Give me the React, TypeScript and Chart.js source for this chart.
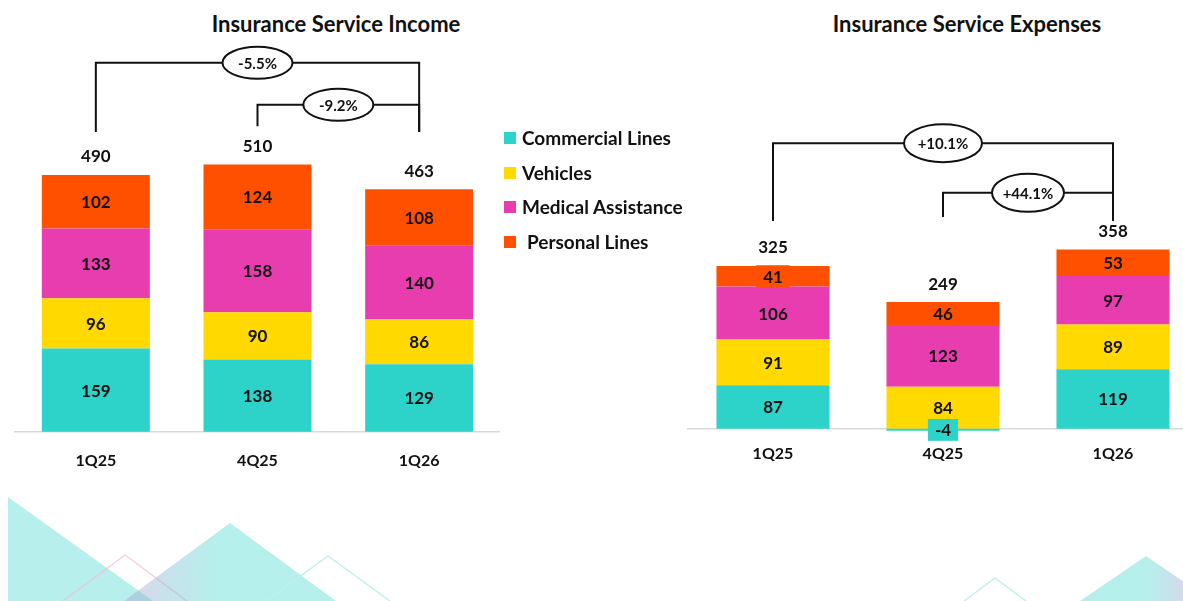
import React, { useEffect, useRef } from 'react';
import { Chart, registerables } from 'chart.js';

Chart.register(...registerables);

// ---------- data ----------
const CATEGORIES = ['1Q25', '4Q25', '1Q26'];
const SERIES_NAMES = ['Commercial Lines', 'Vehicles', 'Medical Assistance', 'Personal Lines'];
const SERIES_COLORS = ['#2DD2C9', '#FFD900', '#E73DAE', '#FF5000'];

const INCOME_COMMERCIAL = [159, 138, 129];
const INCOME_VEHICLES = [96, 90, 86];
const INCOME_MEDICAL = [133, 158, 140];
const INCOME_PERSONAL = [102, 124, 108];

const EXPENSE_COMMERCIAL = [87, -4, 119];
const EXPENSE_VEHICLES = [91, 84, 89];
const EXPENSE_MEDICAL = [106, 123, 97];
const EXPENSE_PERSONAL = [41, 46, 53];

const INCOME_CHANGES = [
  { from: 0, to: 2, label: '-5.5%' },
  { from: 1, to: 2, label: '-9.2%' },
];
const EXPENSE_CHANGES = [
  { from: 0, to: 2, label: '+10.1%' },
  { from: 1, to: 2, label: '+44.1%' },
];

const TITLE_INCOME = 'Insurance Service Income';
const TITLE_EXPENSE = 'Insurance Service Expenses';

// ---------- layout (kept apart from data) ----------
const INCOME_BRACKET_LAYOUT = [
  { level: 704, fromEnd: 572, toEnd: 572, rx: 35, ry: 16 },
  { level: 624, fromEnd: 583, toEnd: 572, rx: 35, ry: 16 },
];
const EXPENSE_BRACKET_LAYOUT = [
  { level: 570, fromEnd: 415, toEnd: 415, rx: 39, ry: 19 },
  { level: 471, fromEnd: 423, toEnd: 415, rx: 36, ry: 19 },
];

const FONT = 'Lato, "Open Sans", sans-serif';

const stackLabelPlugin = {
  id: 'stackLabels',
  afterDatasetsDraw(chart: any) {
    const ctx = chart.ctx;
    ctx.save();
    ctx.font = `bold 17px ${FONT}`;
    ctx.textAlign = 'center';
    ctx.textBaseline = 'middle';
    chart.data.datasets.forEach((ds: any, di: number) => {
      const meta = chart.getDatasetMeta(di);
      meta.data.forEach((el: any, i: number) => {
        const v = ds.data[i];
        const { x, y, base } = el.getProps(['x', 'y', 'base'], true);
        const cy = (y + base) / 2;
        const txt = String(v);
        const w = ctx.measureText(txt).width + 14;
        ctx.fillStyle = ds.backgroundColor;
        ctx.fillRect(x - w / 2, cy - 11, w, 22);
        ctx.fillStyle = '#111';
        ctx.fillText(txt, x, cy + 1);
      });
    });
    const n = chart.data.labels.length;
    for (let i = 0; i < n; i++) {
      let total = 0;
      let top = Infinity;
      let x = 0;
      chart.data.datasets.forEach((ds: any, di: number) => {
        const el = chart.getDatasetMeta(di).data[i];
        const p = el.getProps(['x', 'y', 'base'], true);
        total += ds.data[i];
        top = Math.min(top, p.y, p.base);
        x = p.x;
      });
      ctx.fillStyle = '#111';
      ctx.fillText(String(total), x, top - 18);
    }
    ctx.restore();
  },
};

const bracketPlugin = {
  id: 'brackets',
  afterDraw(chart: any, _args: any, opts: any) {
    const items = opts.items || [];
    const layout = opts.layout || [];
    const ctx = chart.ctx;
    const xs = chart.scales.x;
    const ys = chart.scales.y;
    ctx.save();
    items.forEach((it: any, k: number) => {
      const L = layout[k];
      const x1 = xs.getPixelForValue(it.from);
      const x2 = xs.getPixelForValue(it.to);
      const yl = ys.getPixelForValue(L.level);
      const y1 = ys.getPixelForValue(L.fromEnd);
      const y2 = ys.getPixelForValue(L.toEnd);
      ctx.strokeStyle = '#111';
      ctx.lineWidth = 2;
      ctx.beginPath();
      ctx.moveTo(x1, y1);
      ctx.lineTo(x1, yl);
      ctx.lineTo(x2, yl);
      ctx.lineTo(x2, y2);
      ctx.stroke();
      const cx = (x1 + x2) / 2;
      ctx.beginPath();
      ctx.ellipse(cx, yl, L.rx, L.ry, 0, 0, Math.PI * 2);
      ctx.fillStyle = '#fff';
      ctx.fill();
      ctx.stroke();
      ctx.fillStyle = '#111';
      ctx.font = `bold 15px ${FONT}`;
      ctx.textAlign = 'center';
      ctx.textBaseline = 'middle';
      ctx.fillText(it.label, cx, yl + 1);
    });
    ctx.restore();
  },
};

function makeConfig(series: number[][], changes: any[], bracketLayout: any[], yMax: number, padLeft: number, padTop: number, tickPad: number, barPct: number): any {
  return {
    type: 'bar',
    data: {
      labels: CATEGORIES,
      datasets: series.map((d, i) => ({
        label: SERIES_NAMES[i],
        data: d,
        backgroundColor: SERIES_COLORS[i],
        borderWidth: 0,
        categoryPercentage: 1,
        barPercentage: barPct,
        clip: false,
      })),
    },
    options: {
      animation: false,
      responsive: false,
      maintainAspectRatio: false,
      layout: { padding: { left: padLeft, top: padTop, right: 0, bottom: 0 } },
      plugins: {
        legend: { display: false },
        tooltip: { enabled: false },
        title: { display: false },
        brackets: { items: changes, layout: bracketLayout },
      },
      scales: {
        x: {
          stacked: true,
          grid: { display: false, drawTicks: false },
          border: { display: true, color: '#d9d9d9', width: 1.5 },
          ticks: { color: '#111', font: { family: FONT, size: 16, weight: 'bold' }, padding: tickPad },
        },
        y: { stacked: true, display: false, min: 0, max: yMax },
      },
    },
    plugins: [stackLabelPlugin, bracketPlugin],
  };
}

export default function App() {
  const leftRef = useRef<HTMLCanvasElement>(null);
  const rightRef = useRef<HTMLCanvasElement>(null);

  useEffect(() => {
    const c1 = new Chart(
      leftRef.current as HTMLCanvasElement,
      makeConfig(
        [INCOME_COMMERCIAL, INCOME_VEHICLES, INCOME_MEDICAL, INCOME_PERSONAL],
        INCOME_CHANGES,
        INCOME_BRACKET_LAYOUT,
        780,
        15,
        23,
        19,
        0.668
      )
    );
    const c2 = new Chart(
      rightRef.current as HTMLCanvasElement,
      makeConfig(
        [EXPENSE_COMMERCIAL, EXPENSE_VEHICLES, EXPENSE_MEDICAL, EXPENSE_PERSONAL],
        EXPENSE_CHANGES,
        EXPENSE_BRACKET_LAYOUT,
        800,
        8,
        28,
        15,
        0.665
      )
    );
    let alive = true;
    if ((document as any).fonts && (document as any).fonts.ready) {
      (document as any).fonts.ready.then(() => {
        if (alive) {
          c1.update();
          c2.update();
        }
      });
    }
    return () => {
      alive = false;
      c1.destroy();
      c2.destroy();
    };
  }, []);

  const titleStyle: React.CSSProperties = {
    position: 'absolute',
    top: 11,
    width: 400,
    textAlign: 'center',
    fontFamily: FONT,
    fontWeight: 'bold',
    fontSize: 22,
    lineHeight: '26px',
    color: '#111',
  };

  return (
    <div
      style={{
        position: 'fixed',
        left: 0,
        top: 0,
        width: 1183,
        height: 601,
        overflow: 'hidden',
        background: '#fff',
      }}
    >
      <svg width={1183} height={601} style={{ position: 'absolute', left: 0, top: 0 }}>
        <defs>
          <linearGradient id="gLeft" gradientUnits="userSpaceOnUse" x1="120" y1="0" x2="340" y2="0">
            <stop offset="0" stopColor="#b79fd0" stopOpacity="0.45" />
            <stop offset="0.45" stopColor="#2dd2c9" stopOpacity="0.35" />
            <stop offset="1" stopColor="#2dd2c9" stopOpacity="0.35" />
          </linearGradient>
          <linearGradient id="gRight" gradientUnits="userSpaceOnUse" x1="1080" y1="0" x2="1212" y2="0">
            <stop offset="0" stopColor="#2dd2c9" stopOpacity="0.35" />
            <stop offset="0.5" stopColor="#2dd2c9" stopOpacity="0.35" />
            <stop offset="0.85" stopColor="#b79fd0" stopOpacity="0.45" />
          </linearGradient>
        </defs>
        <polygon points="8,497 153,601 8,601" fill="#2dd2c9" fillOpacity="0.35" />
        <polyline points="63,601 125,555 187,601" fill="none" stroke="#f6b8dc" strokeOpacity="0.7" strokeWidth="1.5" strokeLinejoin="round" />
        <polygon points="124,601 230,523 336,601" fill="url(#gLeft)" strokeLinejoin="round" />
        <polyline points="266,601 328,556 390,601" fill="none" stroke="#bff0ee" strokeWidth="1.5" strokeLinejoin="round" />
        <polyline points="964,601 995,578 1026,601" fill="none" stroke="#bff0ee" strokeWidth="1.5" strokeLinejoin="round" />
        <polygon points="1080,601 1146,556 1212,601" fill="url(#gRight)" />
      </svg>

      <div style={{ ...titleStyle, left: 136 }}>{TITLE_INCOME}</div>
      <div style={{ ...titleStyle, left: 767 }}>{TITLE_EXPENSE}</div>

      <canvas ref={leftRef} width={500} height={489} style={{ position: 'absolute', left: 0, top: 0, width: 500, height: 489 }} />
      <canvas ref={rightRef} width={518} height={478} style={{ position: 'absolute', left: 680, top: 0, width: 518, height: 478 }} />

      <div style={{ position: 'absolute', left: 504, top: 121 }}>
        {SERIES_NAMES.map((name, i) => (
          <div key={name} style={{ display: 'flex', alignItems: 'center', height: 34.5 }}>
            <span style={{ width: 12, height: 12, background: SERIES_COLORS[i], display: 'inline-block', marginRight: i === 3 ? 11 : 6 }} />
            <span style={{ fontFamily: FONT, fontWeight: 'bold', fontSize: 19, color: '#111', lineHeight: '22px' }}>{name}</span>
          </div>
        ))}
      </div>
    </div>
  );
}
